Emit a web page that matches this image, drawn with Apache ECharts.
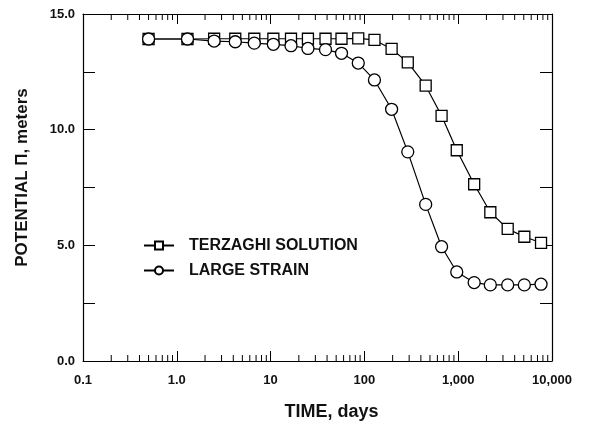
<!DOCTYPE html>
<html>
<head>
<meta charset="utf-8">
<script src="https://cdn.jsdelivr.net/npm/echarts@6/dist/echarts.min.js"></script>
<style>
  html, body { margin: 0; padding: 0; background: #fff; }
  #chart { width: 596px; height: 426px; }
</style>
</head>
<body>
<div id="chart"></div>
<script>
// Time steps (days) shared by both solutions
const timeDays = [0.5, 1.3, 2.5, 4.2, 6.7, 10.7, 16.5, 25, 38.5, 57, 86, 128, 195, 290, 450, 665, 965, 1480, 2200, 3370, 5070, 7640];
// Potential (m) from the Terzaghi solution
const terzaghi = [13.92, 13.92, 13.93, 13.93, 13.93, 13.93, 13.93, 13.93, 13.93, 13.93, 13.95, 13.88, 13.49, 12.91, 11.90, 10.60, 9.11, 7.64, 6.43, 5.71, 5.37, 5.11];
// Potential (m) from the large strain solution
const largeStrain = [13.92, 13.92, 13.83, 13.80, 13.74, 13.69, 13.63, 13.51, 13.46, 13.30, 12.88, 12.15, 10.88, 9.04, 6.77, 4.94, 3.85, 3.39, 3.29, 3.29, 3.29, 3.32];

const seriesNames = ['TERZAGHI SOLUTION', 'LARGE STRAIN'];
const xTickLabels = { 0.1: '0.1', 1: '1.0', 10: '10', 100: '100', 1000: '1,000', 10000: '10,000' };
const yTickLabels = { 0: '0.0', 5: '5.0', 10: '10.0', 15: '15.0' };

const X_MIN = 0.1, X_MAX = 10000, Y_MIN = 0, Y_MAX = 15;
const FONT = 'Liberation Sans, Arial, Helvetica, sans-serif';

// Log-axis minor tick positions: 2..9 within each decade
const minorTicks = [];
for (let d = -1; d < 4; d++) {
  for (let m = 2; m <= 9; m++) minorTicks.push([m * Math.pow(10, d)]);
}

const chart = echarts.init(document.getElementById('chart'), null, { renderer: 'canvas' });

const lineStyle = { color: '#000', width: 1.2 };
const markerStyle = { color: '#fff', borderColor: '#000', borderWidth: 1.3 };
const frameLine = { color: '#000', width: 1.2 };
const frameTick = { color: '#000', width: 1 };

chart.setOption({
  animation: false,
  backgroundColor: '#fff',
  grid: { left: 83, right: 44, top: 14, bottom: 65 },
  legend: {
    orient: 'vertical',
    left: 138,
    top: 232,
    itemWidth: 30,
    itemHeight: 10,
    itemGap: 8,
    data: seriesNames,
    textStyle: { fontFamily: FONT, fontSize: 16, fontWeight: 'bold', color: '#111', padding: [0, 0, 0, 10], lineHeight: 17 }
  },
  xAxis: [{
    type: 'log',
    logBase: 10,
    min: X_MIN,
    max: X_MAX,
    position: 'bottom',
    axisLine: { onZero: false, lineStyle: frameLine },
    axisTick: { inside: true, length: 10, lineStyle: frameTick },
    axisLabel: {
      fontFamily: FONT, fontSize: 13, fontWeight: 'bold', color: '#111', margin: 13,
      formatter: v => xTickLabels[+v.toPrecision(6)] || ''
    },
    splitLine: { show: false },
    name: 'TIME, days',
    nameLocation: 'middle',
    nameGap: 42,
    nameTextStyle: { fontFamily: FONT, fontSize: 18, fontWeight: 'bold', color: '#111', padding: [0, 0, 0, 28] }
  }, {
    type: 'log',
    logBase: 10,
    min: X_MIN,
    max: X_MAX,
    position: 'top',
    axisLine: { onZero: false, lineStyle: frameLine },
    axisTick: { inside: true, length: 10, lineStyle: frameTick },
    axisLabel: { show: false },
    splitLine: { show: false }
  }],
  yAxis: [{
    type: 'value',
    min: Y_MIN,
    max: Y_MAX,
    interval: 2.5,
    position: 'left',
    axisLine: { show: true, onZero: false, lineStyle: frameLine },
    axisTick: { show: true, inside: true, length: 12, lineStyle: frameTick },
    axisLabel: {
      fontFamily: FONT, fontSize: 13, fontWeight: 'bold', color: '#111', margin: 8,
      formatter: v => yTickLabels[v] || ''
    },
    splitLine: { show: false },
    name: 'POTENTIAL \u03A0, meters',
    nameLocation: 'middle',
    nameGap: 52,
    nameRotate: 90,
    nameTextStyle: { fontFamily: FONT, fontSize: 17, fontWeight: 'bold', color: '#111', padding: [0, 0, 0, 20] }
  }, {
    type: 'value',
    min: Y_MIN,
    max: Y_MAX,
    interval: 2.5,
    position: 'right',
    axisLine: { show: true, onZero: false, lineStyle: frameLine },
    axisTick: { show: true, inside: true, length: 12, lineStyle: frameTick },
    axisLabel: { show: false },
    splitLine: { show: false }
  }],
  series: [{
    // minor ticks of the log time axis, drawn on the bottom and top frame edges
    type: 'custom',
    silent: true,
    xAxisIndex: 0,
    yAxisIndex: 0,
    data: minorTicks,
    clip: false,
    z: 1,
    renderItem: (params, api) => {
      const v = api.value(0);
      const bottom = api.coord([v, Y_MIN]);
      const top = api.coord([v, Y_MAX]);
      const style = { stroke: '#000', lineWidth: 1 };
      return {
        type: 'group',
        children: [
          { type: 'line', shape: { x1: bottom[0], y1: bottom[1], x2: bottom[0], y2: bottom[1] - 6 }, style },
          { type: 'line', shape: { x1: top[0], y1: top[1], x2: top[0], y2: top[1] + 6 }, style }
        ]
      };
    }
  }, {
    name: seriesNames[0],
    type: 'line',
    data: timeDays.map((t, i) => [t, terzaghi[i]]),
    symbol: 'rect',
    symbolSize: 11,
    showAllSymbol: true,
    lineStyle,
    itemStyle: markerStyle,
    z: 3
  }, {
    name: seriesNames[1],
    type: 'line',
    data: timeDays.map((t, i) => [t, largeStrain[i]]),
    symbol: 'circle',
    symbolSize: 12,
    showAllSymbol: true,
    lineStyle,
    itemStyle: markerStyle,
    z: 4
  }]
});
</script>
</body>
</html>
